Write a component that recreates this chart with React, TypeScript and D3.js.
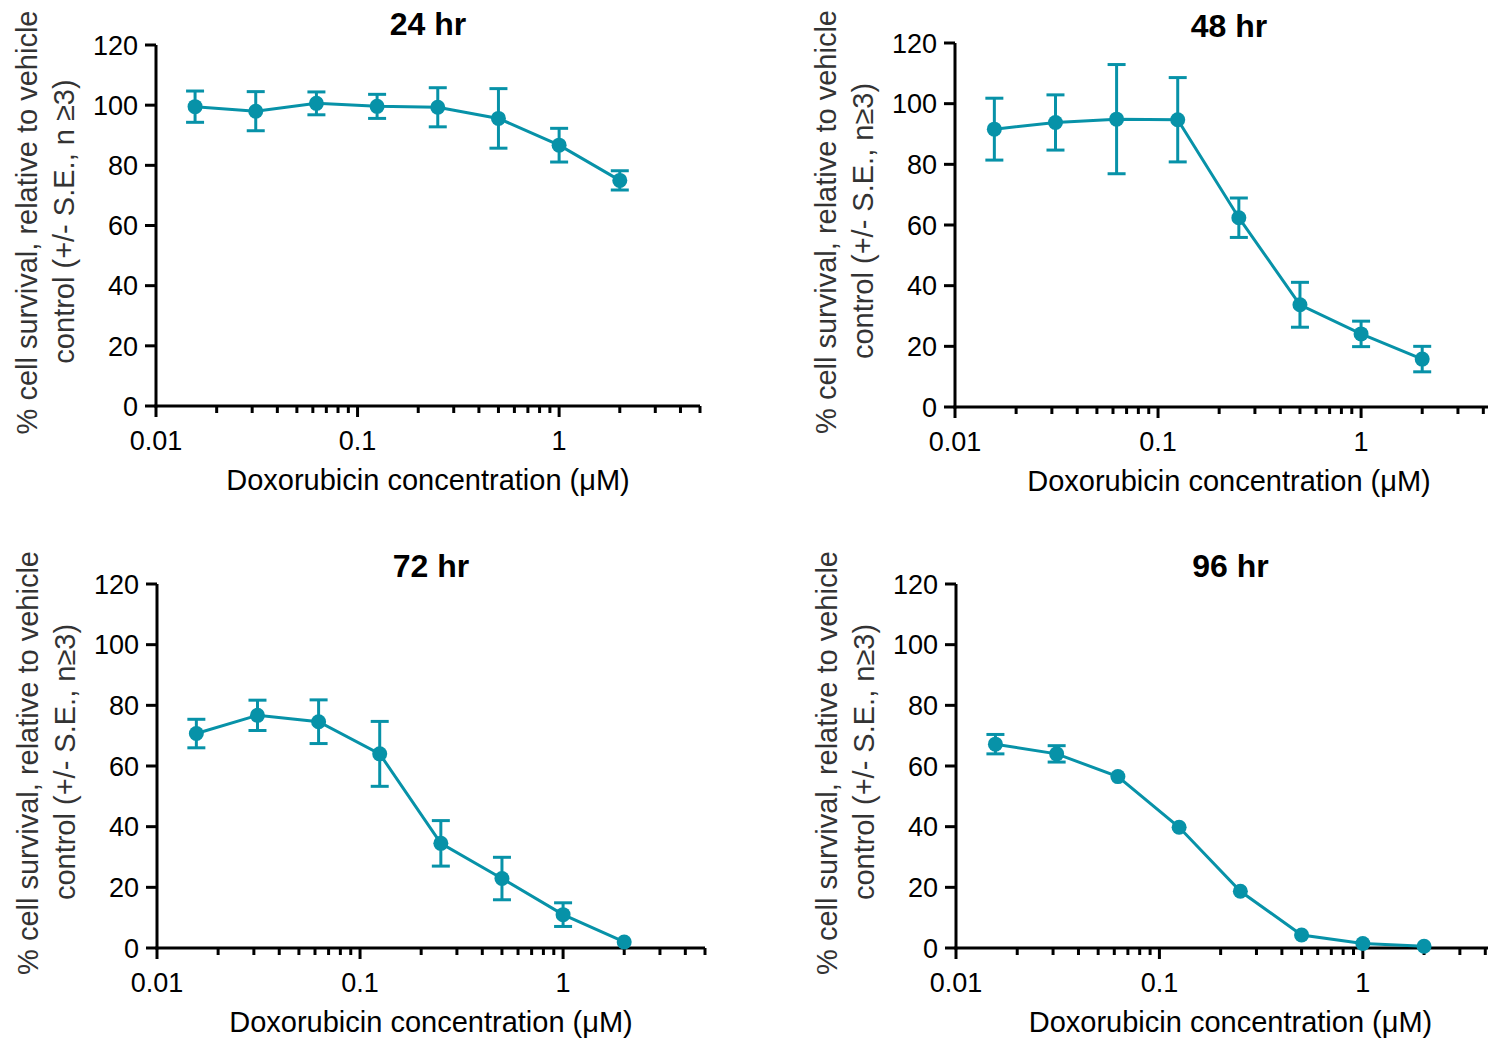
import React from 'react';
import * as d3 from 'd3';

// Doxorubicin doses (µM), 2-fold dilutions
const concentrations = [0.015625, 0.03125, 0.0625, 0.125, 0.25, 0.5, 1, 2];

const titles = ['24 hr', '48 hr', '72 hr', '96 hr'];

// mean % survival and S.E. (0 = bar hidden behind the dot)
const survival24 = [99.5, 98.0, 100.6, 99.6, 99.3, 95.6, 86.7, 75.0];
const se24 = [5.2, 6.5, 3.8, 4.0, 6.5, 9.9, 5.6, 3.2];

const survival48 = [91.6, 93.8, 94.9, 94.7, 62.4, 33.7, 24.1, 15.8];
const se48 = [10.2, 9.1, 18.0, 13.9, 6.5, 7.4, 4.2, 4.2];

const survival72 = [70.7, 76.7, 74.6, 64.0, 34.5, 22.9, 11.0, 2.0];
const se72 = [4.7, 5.0, 7.2, 10.7, 7.5, 7.0, 3.9, 0];

const survival96 = [67.2, 64.0, 56.5, 39.8, 18.7, 4.3, 1.5, 0.6];
const se96 = [3.2, 2.7, 0, 0, 0, 0, 0, 0];

const yTicks = [0, 20, 40, 60, 80, 100, 120];
const xTickLabels = ['0.01', '0.1', '1'];

const yLabelLine1 = '% cell survival, relative to vehicle';
const yLabelLine2 = [
  'control (+/- S.E., n \u22653)',
  'control (+/- S.E., n\u22653)',
  'control (+/- S.E., n\u22653)',
  'control (+/- S.E., n\u22653)',
];
const xLabel = 'Doxorubicin concentration (\u03bcM)';

// where each panel's plot area sits on the page
const layout = [
  { left: 156, top: 45, width: 544, height: 361, titleY: 35 },
  { left: 955, top: 43, width: 548, height: 364, titleY: 37 },
  { left: 157, top: 584, width: 548, height: 364, titleY: 577 },
  { left: 956, top: 584, width: 549, height: 364, titleY: 577 },
];

const series = [
  { mean: survival24, se: se24 },
  { mean: survival48, se: se48 },
  { mean: survival72, se: se72 },
  { mean: survival96, se: se96 },
];

const TEAL = '#0792a8';
const FONT = 'Arial, "Liberation Sans", Helvetica, sans-serif';

const Panel = ({ idx }: { idx: number }) => {
  const { left, top, width, height, titleY } = layout[idx];
  const { mean, se } = series[idx];

  const x = d3.scaleLog().domain([0.01, 5]).range([0, width]);
  const y = d3.scaleLinear().domain([0, 120]).range([height, 0]);

  const pts = concentrations.map((c, i) => ({ c, m: mean[i], e: se[i] }));
  const line = d3
    .line<{ c: number; m: number }>()
    .x((d) => x(d.c))
    .y((d) => y(d.m));

  const xTicks = x.ticks();
  const isMajor = (v: number) => Math.abs(Math.log10(v) - Math.round(Math.log10(v))) < 1e-6;
  const cx = width / 2;
  const cy = height / 2;

  return (
    <g transform={`translate(${left},${top})`} fontFamily={FONT}>
      <text x={cx} y={titleY - top} textAnchor="middle" fontSize={32} fontWeight="bold" fill="#000">
        {titles[idx]}
      </text>

      {/* y axis */}
      <line x1={0} x2={0} y1={0} y2={height + 1.5} stroke="#000" strokeWidth={3} />
      {yTicks.map((t) => (
        <g key={t} transform={`translate(0,${y(t)})`}>
          <line x1={-11} x2={0} stroke="#000" strokeWidth={3} />
          <text x={-18} dy="0.36em" textAnchor="end" fontSize={27} fill="#000">
            {t}
          </text>
        </g>
      ))}

      {/* x axis */}
      <line x1={-1.5} x2={width} y1={height} y2={height} stroke="#000" strokeWidth={3} />
      {xTicks.map((t) => (
        <line
          key={t}
          x1={x(t)}
          x2={x(t)}
          y1={height}
          y2={height + (isMajor(t) ? 11 : 7)}
          stroke="#000"
          strokeWidth={3}
        />
      ))}
      {xTickLabels.map((lab) => (
        <text key={lab} x={x(+lab)} y={height + 44} textAnchor="middle" fontSize={27} fill="#000">
          {lab}
        </text>
      ))}

      <text x={cx} y={height + 84} textAnchor="middle" fontSize={29} fill="#000">
        {xLabel}
      </text>

      <g transform={`translate(-119,${cy - 3}) rotate(-90)`}>
        <text textAnchor="middle" fontSize={29} fill="#333">
          {yLabelLine1}
        </text>
      </g>
      <g transform={`translate(-82,${cy - 4}) rotate(-90)`}>
        <text textAnchor="middle" fontSize={29} fill="#333">
          {yLabelLine2[idx]}
        </text>
      </g>

      {/* data */}
      <path d={line(pts) || ''} fill="none" stroke={TEAL} strokeWidth={3} />
      {pts
        .filter((p) => p.e > 0)
        .map((p, i) => (
          <g key={i} stroke={TEAL} strokeWidth={3}>
            <line x1={x(p.c)} x2={x(p.c)} y1={y(p.m - p.e)} y2={y(p.m + p.e)} />
            <line x1={x(p.c) - 9} x2={x(p.c) + 9} y1={y(p.m + p.e)} y2={y(p.m + p.e)} />
            <line x1={x(p.c) - 9} x2={x(p.c) + 9} y1={y(p.m - p.e)} y2={y(p.m - p.e)} />
          </g>
        ))}
      {pts.map((p, i) => (
        <circle key={i} cx={x(p.c)} cy={y(p.m)} r={7.5} fill={TEAL} />
      ))}
    </g>
  );
};

export default function App() {
  return (
    <svg
      width={1488}
      height={1041}
      style={{ position: 'absolute', left: 0, top: 0, background: '#fff' }}
    >
      <rect width={1488} height={1041} fill="#fff" />
      {titles.map((_, i) => (
        <Panel key={i} idx={i} />
      ))}
    </svg>
  );
}
